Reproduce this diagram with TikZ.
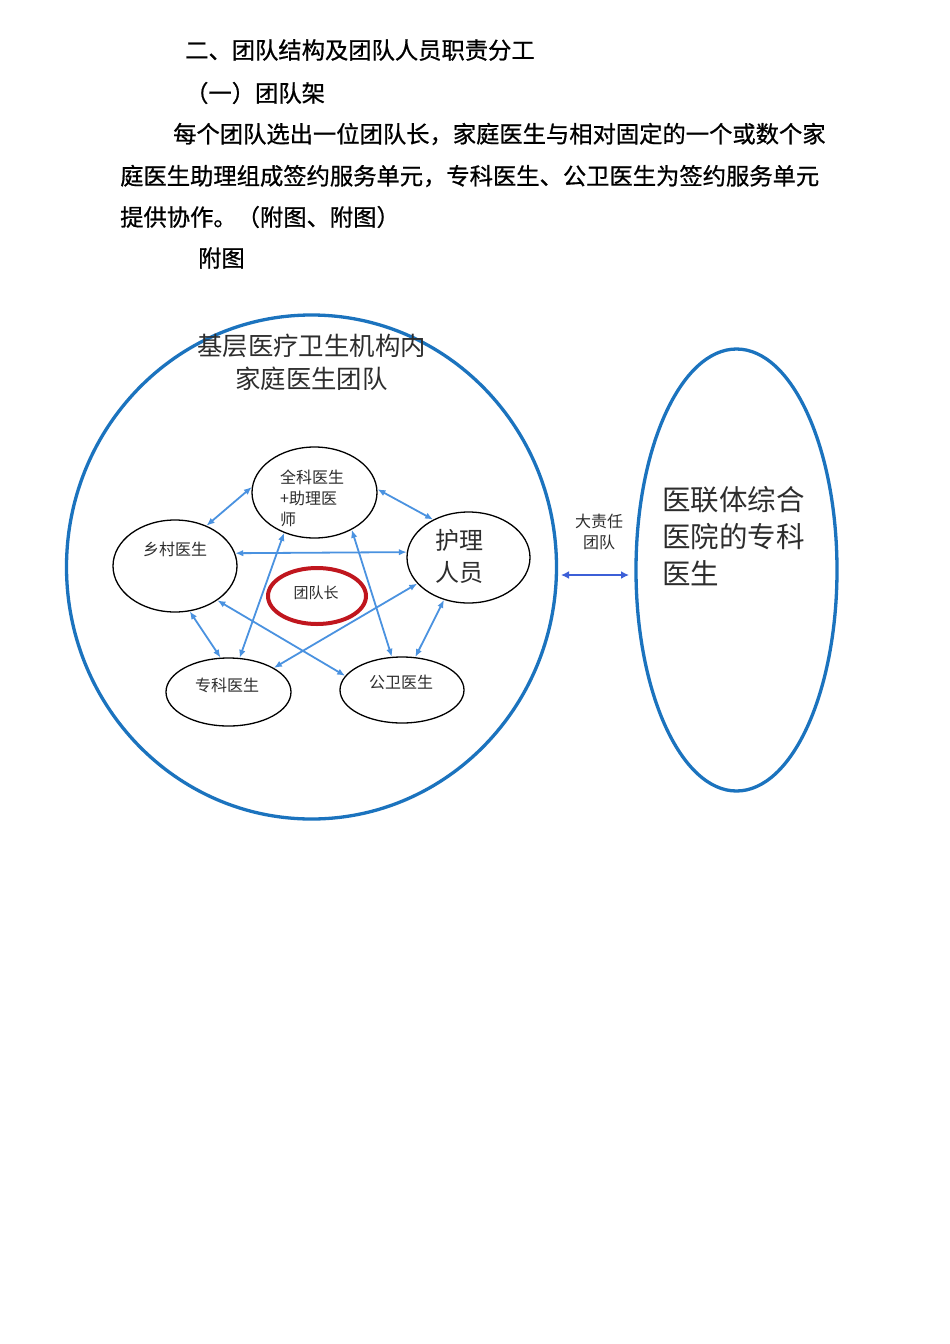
\documentclass[tikz,border=0pt]{standalone}
\usepackage{fontspec}
\setmainfont{Noto Sans CJK SC}
\newfontfamily\headfont[FakeBold=0.8]{Noto Sans CJK SC}
\usetikzlibrary{shapes.geometric,arrows.meta}
\definecolor{bigblue}{RGB}{27,115,190}
\definecolor{linkblue}{RGB}{74,146,224}
\definecolor{arrblue}{RGB}{60,95,215}
\definecolor{leadred}{RGB}{192,22,30}
\definecolor{txtgray}{RGB}{45,45,45}
\tikzset{
  bodytext/.style={anchor=west, inner sep=0pt, font=\headfont\fontsize{23.3}{28}\selectfont, text=black},
  member/.style={draw=black, ellipse, line width=1.3pt, inner sep=0pt},
  memtext/.style={inner sep=0pt, text=txtgray, font=\fontsize{16}{21}\selectfont, align=left},
  link/.style={draw=linkblue, line width=1.8pt, {Latex[length=8pt,width=6.5pt]}-{Latex[length=8pt,width=6.5pt]}},
}
\begin{document}
\begin{tikzpicture}[x=1pt,y=-1pt]
\useasboundingbox (0,0) rectangle (950,1344);
\fill[white] (0,0) rectangle (950,1344);

% heading text
\node[bodytext] (h1) at (185,50) {二、团队结构及团队人员职责分工};
\node[bodytext] (h2) at (185,93) {（一）团队架};
\node[bodytext] (h3) at (173,134) {每个团队选出一位团队长，家庭医生与相对固定的一个或数个家};
\node[bodytext] (h4) at (120,176) {庭医生助理组成签约服务单元，专科医生、公卫医生为签约服务单元};
\node[bodytext] (h5) at (120,217) {提供协作。（附图、附图）};
\node[bodytext] (h6) at (198,258) {附图};

% big containers
\node[draw=bigblue, ellipse, line width=3.3pt, minimum width=490, minimum height=504, inner sep=0pt] (big) at (311.5,567) {};
\node[draw=bigblue, ellipse, line width=3.3pt, minimum width=201, minimum height=442, inner sep=0pt] (hos) at (736.5,570) {};

\node[inner sep=0pt, text=txtgray, font=\fontsize{25.4}{33}\selectfont, align=center] (title) at (311.5,362) {基层医疗卫生机构内\\家庭医生团队};
\node[inner sep=0pt, anchor=west, text=txtgray, font=\fontsize{28.5}{37}\selectfont, align=left] (hostext) at (662,536) {医联体综合\\医院的专科\\医生};

% members
\node[member, minimum width=125, minimum height=91] (qk) at (314.5,492.5) {};
\node[member, minimum width=124, minimum height=92] (xc) at (175,566) {};
\node[member, minimum width=123, minimum height=91] (hl) at (468.5,557.5) {};
\node[member, minimum width=125, minimum height=68] (zk) at (228.5,692) {};
\node[member, minimum width=124, minimum height=66] (gw) at (402,690) {};
\node[draw=leadred, ellipse, line width=4pt, minimum width=98, minimum height=56, inner sep=0pt] (lead) at (317,596) {};

\node[memtext, anchor=west] (qkt) at (280,498) {全科医生\\+助理医\\师};
\node[memtext, anchor=west] (xct) at (143,549) {乡村医生};
\node[memtext, anchor=west, font=\fontsize{24}{32}\selectfont] (hlt) at (435,556) {护理\\人员};
\node[memtext, anchor=west] (zkt) at (195,685) {专科医生};
\node[memtext, anchor=west] (gwt) at (369,682) {公卫医生};
\node[memtext, font=\fontsize{15}{20}\selectfont] (leadt) at (316,593) {团队长};

% links
\draw[link] (qk.175) -- (xc.52);
\draw[link] (qk.3) -- (hl.133);
\draw[link] (xc.12) -- (hl.175);
\draw[link] (qk.233) -- (zk.72);
\draw[link] (qk.315) -- (gw.107);
\draw[link] (xc.321) -- (gw.166);
\draw[link] (hl.207) -- (zk.28);
\draw[link] (xc.288) -- (zk.103);
\draw[link] (hl.240) -- (gw.68);

% big team link
\node[inner sep=0pt, text=txtgray, font=\fontsize{16}{21}\selectfont, align=center] (team) at (599,532) {大责任\\团队};
\coordinate (a1) at (561,575);
\coordinate (a2) at (629,575);
\draw[draw=arrblue, line width=2.4pt, {Latex[length=8pt,width=8pt]}-{Latex[length=8pt,width=8pt]}] (a1) -- (a2);
\end{tikzpicture}
\end{document}
